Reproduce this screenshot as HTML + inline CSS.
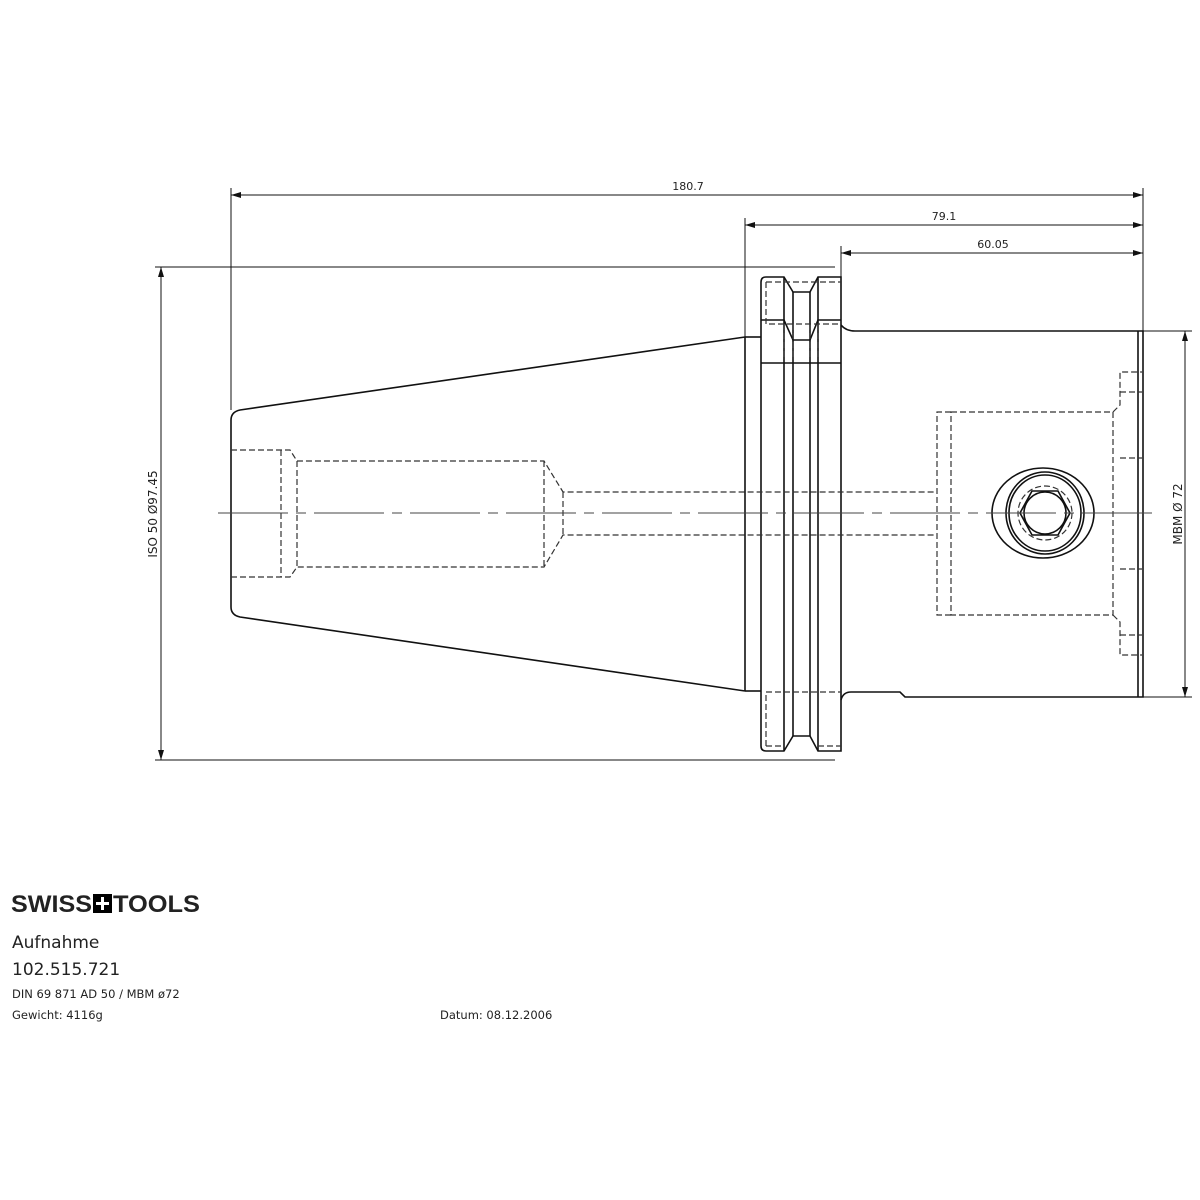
<!DOCTYPE html>
<html><head><meta charset="utf-8"><style>
html,body{margin:0;padding:0;background:#fff;width:1200px;height:1200px;overflow:hidden}
svg{display:block}
text{font-family:"DejaVu Sans","Liberation Sans",sans-serif;fill:#222}
</style></head><body>
<svg width="1200" height="1200" viewBox="0 0 1200 1200" xmlns="http://www.w3.org/2000/svg">
<defs>
<marker id="a" viewBox="0 0 10 6" refX="10" refY="3" markerWidth="10" markerHeight="6" orient="auto-start-reverse" markerUnits="userSpaceOnUse"><path d="M0,0L10,3L0,6z" fill="#111"/></marker>
</defs>
<g stroke="#111" stroke-width="1" fill="none">
<line x1="231" y1="195" x2="1143" y2="195" marker-start="url(#a)" marker-end="url(#a)"/>
<line x1="745" y1="225" x2="1143" y2="225" marker-start="url(#a)" marker-end="url(#a)"/>
<line x1="841" y1="253" x2="1143" y2="253" marker-start="url(#a)" marker-end="url(#a)"/>
<line x1="231" y1="188" x2="231" y2="410"/>
<line x1="1143" y1="188" x2="1143" y2="331"/>
<line x1="745" y1="218" x2="745" y2="337"/>
<line x1="841" y1="246" x2="841" y2="277"/>
<line x1="161" y1="267" x2="161" y2="760" marker-start="url(#a)" marker-end="url(#a)"/>
<line x1="155" y1="267" x2="835" y2="267"/>
<line x1="155" y1="760" x2="835" y2="760"/>
<line x1="1185" y1="331" x2="1185" y2="697" marker-start="url(#a)" marker-end="url(#a)"/>
<line x1="1143" y1="331" x2="1192" y2="331"/>
<line x1="1143" y1="697" x2="1192" y2="697"/>
</g>
<g stroke="#111" stroke-width="1.6" fill="none">
<path d="M745,337 L240,410 Q231,412 231,420 L231,607 Q231,615 240,617 L745,691"/>
<line x1="745" y1="337" x2="761" y2="337"/>
<line x1="745" y1="691" x2="761" y2="691"/>
<line x1="745" y1="337" x2="745" y2="691"/>
<path d="M761,282 Q761,277 766,277 L784,277 L793,292 L810,292 L818,277 L841,277 L841,751 L818,751 L810,736 L793,736 L784,751 L766,751 Q761,751 761,746 Z"/>
<line x1="784" y1="277" x2="784" y2="751"/>
<line x1="818" y1="277" x2="818" y2="751"/>
<line x1="793" y1="292" x2="793" y2="736"/>
<line x1="810" y1="292" x2="810" y2="736"/>
<path d="M761,320 L784,320 L793,340 L810,340 L818,320 L841,320"/>
<line x1="761" y1="363" x2="841" y2="363"/>
<path d="M841,325 Q846,331 855,331 L1143,331 L1143,697 L905,697 L900,692 L851,692 Q843,692 841,700"/>
<line x1="1138" y1="331" x2="1138" y2="697"/>
<ellipse cx="1043" cy="513" rx="51" ry="45"/>
<ellipse cx="1045" cy="513" rx="39" ry="41"/>
<ellipse cx="1045" cy="513" rx="36" ry="38"/>
<polygon points="1070,513 1058,535 1032,535 1020,513 1032,491 1058,491"/>
<circle cx="1045" cy="513" r="21"/>
</g>
<g stroke="#333" stroke-width="1.2" fill="none" stroke-dasharray="6,3">
<path d="M766,282 L766,324 L841,324"/>
<path d="M766,746 L766,692 L841,692"/>
<line x1="784" y1="282" x2="841" y2="282"/>
<line x1="766" y1="282" x2="784" y2="282"/>
<line x1="766" y1="746" x2="784" y2="746"/>
<line x1="818" y1="746" x2="841" y2="746"/>
<line x1="784" y1="324" x2="784" y2="360"/>
<line x1="793" y1="324" x2="793" y2="360"/>
<line x1="810" y1="324" x2="810" y2="360"/>
<line x1="818" y1="324" x2="818" y2="360"/>
<path d="M231,450 L290,450 L297,461 L544,461 L563,492 L937,492"/>
<path d="M231,577 L290,577 L297,567 L544,567 L563,535 L937,535"/>
<line x1="281" y1="450" x2="281" y2="577"/>
<line x1="297" y1="461" x2="297" y2="567"/>
<line x1="544" y1="461" x2="544" y2="567"/>
<line x1="563" y1="492" x2="563" y2="535"/>
<path d="M951,412 L937,412 L937,615 L951,615"/>
<path d="M951,412 L1113,412 L1113,615 L951,615 Z"/>
<path d="M1113,412 L1120,405 L1120,372 L1142,372"/>
<path d="M1113,615 L1120,622 L1120,655 L1142,655"/>
<line x1="1120" y1="392" x2="1142" y2="392"/>
<line x1="1120" y1="458" x2="1142" y2="458"/>
<line x1="1120" y1="569" x2="1142" y2="569"/>
<line x1="1120" y1="635" x2="1142" y2="635"/>
<circle cx="1045" cy="513" r="27"/>
</g>
<line x1="218" y1="513" x2="1156" y2="513" stroke="#444" stroke-width="1" stroke-dasharray="70,8,10,8"/>
<text x="688" y="190" font-size="11" text-anchor="middle">180.7</text>
<text x="944" y="220" font-size="11" text-anchor="middle">79.1</text>
<text x="993" y="248" font-size="11" text-anchor="middle">60.05</text>
<text transform="translate(157,514) rotate(-90)" font-size="12" text-anchor="middle">ISO 50  Ø97.45</text>
<text transform="translate(1182,514) rotate(-90)" font-size="12" text-anchor="middle">MBM  Ø 72</text>
<text x="11" y="912" font-size="24" font-weight="bold" textLength="81" lengthAdjust="spacingAndGlyphs" style="font-family:'Liberation Sans',sans-serif" fill="#000">SWISS</text>
<rect x="93" y="894" width="19" height="19" fill="#000"/>
<path d="M102.5,897v13M96,903.5h13" stroke="#fff" stroke-width="3"/>
<text x="113" y="912" font-size="24" font-weight="bold" textLength="87" lengthAdjust="spacingAndGlyphs" style="font-family:'Liberation Sans',sans-serif" fill="#000">TOOLS</text>
<text x="12" y="948" font-size="17">Aufnahme</text>
<text x="12" y="975" font-size="17">102.515.721</text>
<text x="12" y="998" font-size="11.5">DIN 69 871 AD 50 / MBM ø72</text>
<text x="12" y="1019" font-size="11.5">Gewicht: 4116g</text>
<text x="440" y="1019" font-size="11.5">Datum: 08.12.2006</text>
</svg>
</body></html>
